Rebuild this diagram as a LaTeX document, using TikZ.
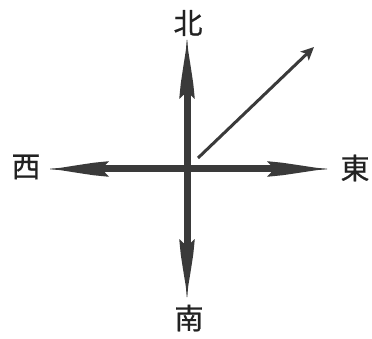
\documentclass[tikz,border=0pt]{standalone}
\usepackage{fontspec}
\newfontfamily\cjk[FakeBold=0.6]{Noto Sans CJK SC}
\usetikzlibrary{arrows.meta}
\definecolor{ink}{HTML}{3A3A3A}
\definecolor{txt}{HTML}{222222}
\tikzset{
  lbl/.style={font=\cjk\fontsize{29pt}{29pt}\selectfont, text=txt, inner sep=0pt},
  shaft/.style={draw=ink, line width=7pt},
  head/.style={fill=ink, draw=none},
  thin/.style={draw=ink, line width=3pt, -{Stealth[length=13pt,width=12pt,inset=3pt]}}
}
\begin{document}
\begin{tikzpicture}[x=1pt,y=-1pt]
\useasboundingbox (0,0) rectangle (372,339);
\coordinate (o) at (187,169);
\node[lbl] (n) at (188,23) {北};
\node[lbl] (s) at (189,318) {南};
\node[lbl] (w) at (26,167) {西};
\node[lbl] (e) at (355,168) {東};
% shafts
\coordinate (nb) at (187,91);
\coordinate (sb) at (187,247);
\coordinate (wb) at (102,169);
\coordinate (eb) at (273,169);
\draw[shaft] (o) -- (nb);
\draw[shaft] (o) -- (sb);
\draw[shaft] (o) -- (wb);
\draw[shaft] (o) -- (eb);
% arrowheads: rotate local (+x) frame about o
\foreach \ang/\b/\t in {90/71/128, 270/71/129, 180/79/137, 0/81/140}{
  \begin{scope}[shift={(o)}, rotate=-\ang]
    \fill[head] (\b-1,-7.8) -- (\b+14,-6.3) .. controls (\b+30,-4) and (\t-16,-2) .. (\t-10,-1.1)
      -- (\t,-0.3) -- (\t,0.3) -- (\t-10,1.1)
      .. controls (\t-16,2) and (\b+30,4) .. (\b+14,6.3) -- (\b-1,7.8)
      -- (\b+3,3.5) -- (\b+3,-3.5) -- cycle;
  \end{scope}
}
% diagonal arrow
\coordinate (d0) at (198,158);
\coordinate (d1) at (314,47);
\draw[thin] (d0) -- (d1);
\end{tikzpicture}
\end{document}
